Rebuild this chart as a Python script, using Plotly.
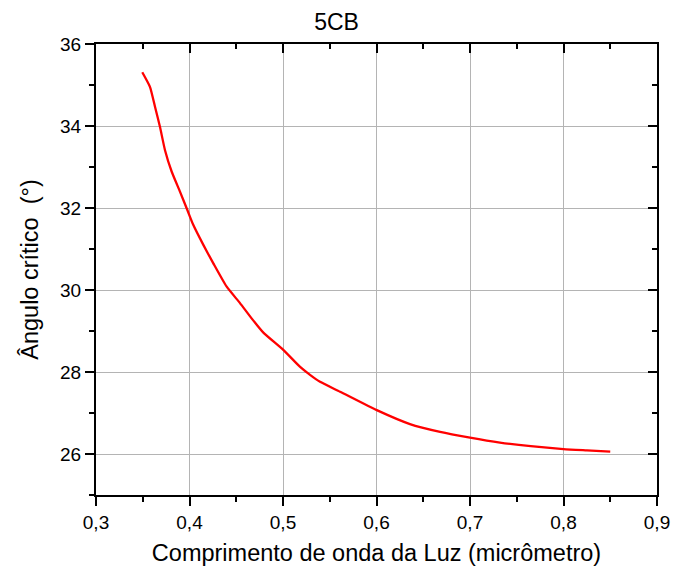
import plotly.graph_objects as go

wavelength = [0.3495, 0.3578, 0.3631, 0.3684, 0.3738, 0.3809, 0.3898, 0.3977, 0.4040,
              0.4148, 0.4255, 0.4398, 0.4540, 0.4660, 0.4790, 0.5003, 0.5180, 0.5289, 0.5396,
              0.5610, 0.6003, 0.6358, 0.6680, 0.7000, 0.7320, 0.7650, 0.8000, 0.8250,
              0.8500]
angle = [35.31, 34.95, 34.47, 33.98, 33.41, 32.89, 32.40, 31.95, 31.59,
         31.10, 30.65, 30.08, 29.68, 29.32, 28.96, 28.54, 28.13, 27.93, 27.76,
         27.52, 27.07, 26.73, 26.54, 26.40, 26.28, 26.19, 26.12, 26.09,
         26.06]

x_ticks = [0.3, 0.4, 0.5, 0.6, 0.7, 0.8, 0.9]
y_ticks = [26, 28, 30, 32, 34, 36]

fig = go.Figure()
fig.add_trace(go.Scatter(x=wavelength, y=angle, mode="lines",
                         line=dict(color="#ff0000", width=2.3, shape="spline", smoothing=0.5),
                         showlegend=False))
# invisible trace to activate mirror axes
fig.add_trace(go.Scatter(x=[0.3], y=[25], xaxis="x2", yaxis="y2", mode="markers",
                         marker=dict(opacity=0), showlegend=False, hoverinfo="skip"))

FONT = "Liberation Sans, Arial, sans-serif"
axis_font = dict(family=FONT, size=19, color="black")
title_font = dict(family=FONT, size=23.5, color="black")

fig.update_layout(
    width=673, height=567,
    margin=dict(l=96, r=16, t=44, b=72),
    paper_bgcolor="white", plot_bgcolor="white",
    separators=",.",
    title=dict(text="5CB", x=0.5, xanchor="center", y=0.962, yanchor="middle",
               font=dict(family=FONT, size=23, color="black")),
    xaxis=dict(range=[0.3, 0.9], tickvals=x_ticks, ticktext=[f"{v:.1f}".replace(".", ",") for v in x_ticks],
               ticks="outside", ticklen=9, tickwidth=2, tickcolor="black",
               showline=True, linecolor="black", linewidth=2, automargin=False,
               showgrid=True, gridcolor="#b4b4b4", gridwidth=1,
               minor=dict(ticks="outside", dtick=0.05, tick0=0.3, ticklen=5, tickwidth=2,
                          tickcolor="black", showgrid=False),
               tickfont=axis_font, zeroline=False,
               title=dict(text="Comprimento de onda da Luz (micrômetro)", font=title_font, standoff=13)),
    yaxis=dict(range=[25, 36], tickvals=y_ticks, ticktext=[str(v) for v in y_ticks],
               ticks="outside", ticklen=9, tickwidth=2, tickcolor="black",
               showline=True, linecolor="black", linewidth=2, automargin=False,
               showgrid=True, gridcolor="#b4b4b4", gridwidth=1,
               minor=dict(ticks="outside", dtick=1, tick0=25, ticklen=5, tickwidth=2,
                          tickcolor="black", showgrid=False),
               tickfont=axis_font, zeroline=False,
               title=dict(text="Ângulo crítico  (°)", font=title_font, standoff=15)),
    xaxis2=dict(range=[0.3, 0.9], overlaying="x", side="top", tickvals=x_ticks,
                ticks="inside", ticklen=9, tickwidth=2, tickcolor="black", automargin=False,
                showticklabels=False, showline=True, linecolor="black", linewidth=2,
                showgrid=False, zeroline=False,
                minor=dict(ticks="inside", dtick=0.05, tick0=0.3, ticklen=5, tickwidth=2,
                           tickcolor="black", showgrid=False)),
    yaxis2=dict(range=[25, 36], overlaying="y", side="right", tickvals=y_ticks,
                ticks="inside", ticklen=9, tickwidth=2, tickcolor="black", automargin=False,
                showticklabels=False, showline=True, linecolor="black", linewidth=2,
                showgrid=False, zeroline=False,
                minor=dict(ticks="inside", dtick=1, tick0=25, ticklen=5, tickwidth=2,
                           tickcolor="black", showgrid=False)),
)

fig.write_html("out.html")
